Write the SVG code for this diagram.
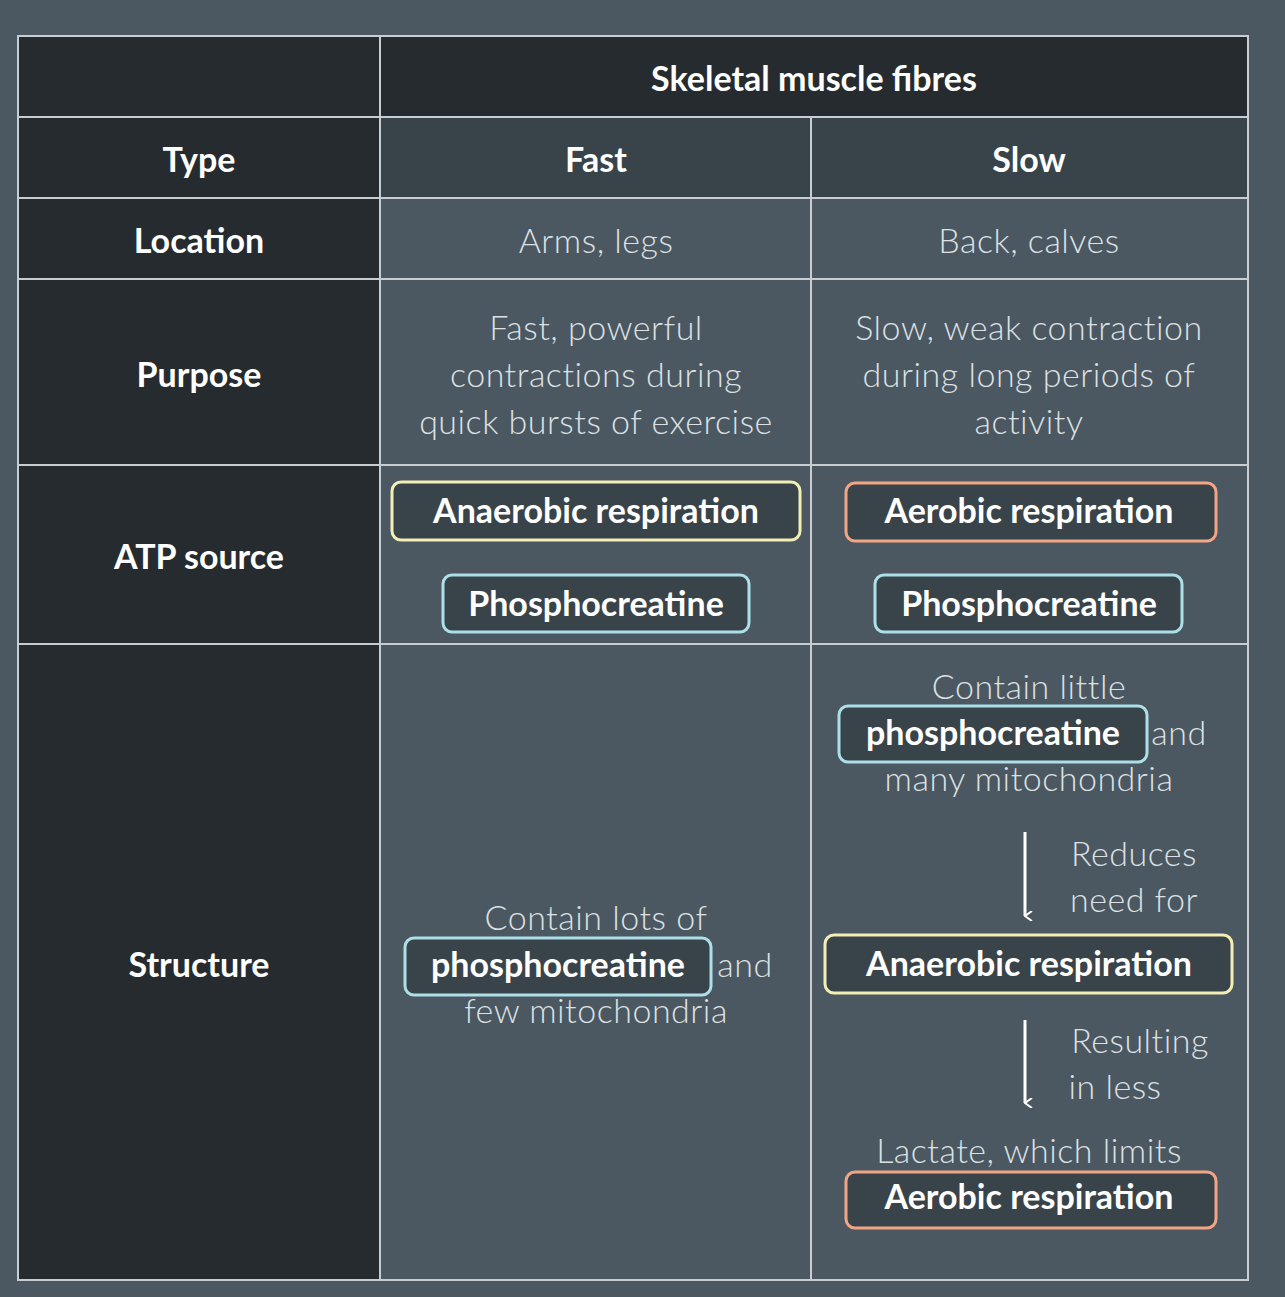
<svg xmlns="http://www.w3.org/2000/svg" width="1285" height="1297" viewBox="0 0 1285 1297">
<defs>
<style>
.dk{fill:#252b2e}.md{fill:#38434a}.bd{fill:#4b5861}
.h{font-family:Lato,"Open Sans",sans-serif;font-weight:700;font-size:34px;fill:#fff;text-anchor:middle}
.t{font-family:Lato,"Open Sans",sans-serif;font-weight:300;font-size:34px;fill:#dde1e4;text-anchor:middle;letter-spacing:0.5px}
.b{font-family:Lato,"Open Sans",sans-serif;font-weight:700;font-size:34px;fill:#fff;text-anchor:middle}
.y{fill:#38434a;stroke:#f3eeb4;stroke-width:3}
.o{fill:#38434a;stroke:#f2a584;stroke-width:3}
.c{fill:#38434a;stroke:#acdfe8;stroke-width:3}
.g{stroke:#c9cdd1;stroke-width:2;fill:none}
</style>
<marker id="ar" viewBox="0 0 10 10" refX="5" refY="9" markerWidth="10" markerHeight="10" orient="auto-start-reverse" markerUnits="userSpaceOnUse"><path d="M0,2 L5,9 L10,2" fill="none" stroke="#fff" stroke-width="2"/></marker>
</defs>
<rect width="1285" height="1297" fill="#4b5861"/>
<g id="cells">
<rect class="dk" x="18" y="36" width="1230" height="81"/>
<rect class="dk" x="18" y="117" width="362" height="1163"/>
<rect class="md" x="380" y="117" width="868" height="81"/>
</g>
<g id="grid" class="g">
<rect x="18" y="36" width="1230" height="1244"/>
<line x1="380" y1="36" x2="380" y2="1280"/>
<line x1="811" y1="117" x2="811" y2="1280"/>
<line x1="18" y1="117" x2="1248" y2="117"/>
<line x1="18" y1="198" x2="1248" y2="198"/>
<line x1="18" y1="279" x2="1248" y2="279"/>
<line x1="18" y1="465" x2="1248" y2="465"/>
<line x1="18" y1="644" x2="1248" y2="644"/>
</g>
<g id="headers">
<text class="h" x="814" y="91">Skeletal muscle fibres</text>
<text class="h" x="199" y="172">Type</text>
<text class="h" x="596" y="172">Fast</text>
<text class="h" x="1029" y="172">Slow</text>
<text class="h" x="199" y="253">Location</text>
<text class="h" x="199" y="387">Purpose</text>
<text class="h" x="199" y="569">ATP source</text>
<text class="h" x="199" y="977">Structure</text>
</g>
<g id="location">
<text class="t" x="596" y="253">Arms, legs</text>
<text class="t" x="1029" y="253">Back, calves</text>
</g>
<g id="purpose">
<text class="t" x="596" y="340">Fast, powerful</text>
<text class="t" x="596" y="387">contractions during</text>
<text class="t" x="596" y="434">quick bursts of exercise</text>
<text class="t" x="1029" y="340">Slow, weak contraction</text>
<text class="t" x="1029" y="387">during long periods of</text>
<text class="t" x="1029" y="434">activity</text>
</g>
<g id="atp">
<rect class="y" x="392" y="482" width="408" height="58" rx="9"/>
<text class="b" x="596" y="523">Anaerobic respiration</text>
<rect class="o" x="846" y="483" width="370" height="58" rx="9"/>
<text class="b" x="1029" y="523">Aerobic respiration</text>
<rect class="c" x="443" y="575" width="306" height="57" rx="9"/>
<text class="b" x="596" y="616">Phosphocreatine</text>
<rect class="c" x="875" y="575" width="307" height="57" rx="9"/>
<text class="b" x="1029" y="616">Phosphocreatine</text>
</g>
<g id="structure-fast">
<text class="t" x="596" y="930">Contain lots of</text>
<rect class="c" x="405" y="938" width="306" height="57" rx="9"/>
<text class="b" x="558" y="977">phosphocreatine</text>
<text class="t" x="745" y="977">and</text>
<text class="t" x="596" y="1023">few mitochondria</text>
</g>
<g id="structure-slow">
<text class="t" x="1029" y="699">Contain little</text>
<rect class="c" x="839" y="706" width="308" height="56" rx="9"/>
<text class="b" x="993" y="745">phosphocreatine</text>
<text class="t" x="1179" y="745">and</text>
<text class="t" x="1029" y="791">many mitochondria</text>
<text class="t" x="1134" y="866" >Reduces</text>
<text class="t" x="1134" y="912">need for</text>
<rect class="y" x="825" y="935" width="407" height="58" rx="9"/>
<text class="b" x="1029" y="976">Anaerobic respiration</text>
<text class="t" x="1140" y="1053">Resulting</text>
<text class="t" x="1115" y="1099">in less</text>
<text class="t" x="1029" y="1163">Lactate, which limits</text>
<rect class="o" x="846" y="1172" width="370" height="56" rx="9"/>
<text class="b" x="1029" y="1209">Aerobic respiration</text>
</g>
<g id="connectors" stroke="#fff" stroke-width="3">
<line x1="1025" y1="832" x2="1025" y2="916" marker-end="url(#ar)"/>
<line x1="1025" y1="1020" x2="1025" y2="1103" marker-end="url(#ar)"/>
</g>
</svg>
